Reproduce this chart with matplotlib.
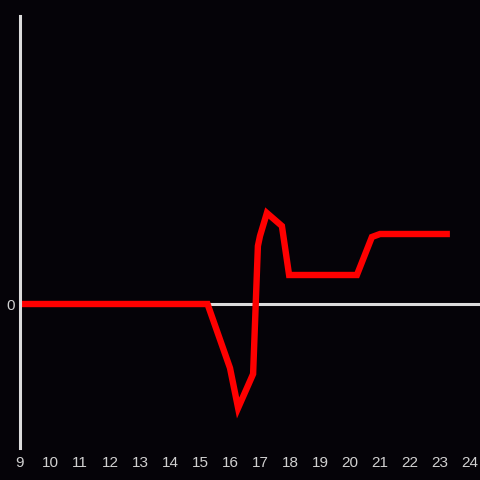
import matplotlib.pyplot as plt

# hours of the day and the value at each (arbitrary units)
hours = [9.0, 15.25, 16.0, 16.27, 16.77, 16.93, 17.0, 17.23, 17.73, 17.97, 20.23, 20.73, 21.0, 23.33]
values = [0, 0, -64, -104, -70, 58, 68, 91, 78, 29, 29, 67, 70, 70]
tick_hours = list(range(9, 25))

BG = '#050308'
AXIS = '#dcdcdc'

fig = plt.figure(figsize=(4.8, 4.8), dpi=100, facecolor=BG)
ax = fig.add_axes([20 / 480, 32 / 480, 460 / 480, 432 / 480])
ax.set_facecolor(BG)

ax.axhline(0, color=AXIS, linewidth=2.2, zorder=1)
ax.plot(hours, values, color='#ff0000', linewidth=4.6, solid_joinstyle='miter',
        solid_capstyle='butt', zorder=2)

ax.set_xlim(9, 24 + 10 / 30)
ax.set_ylim(-144, 288)

for side in ['top', 'right', 'bottom']:
    ax.spines[side].set_visible(False)
ax.spines['left'].set_color(AXIS)
ax.spines['left'].set_linewidth(2.2)

ax.set_xticks(tick_hours)
ax.set_xticklabels([str(h) for h in tick_hours])
ax.set_yticks([0])
ax.set_yticklabels(['0'])
ax.tick_params(length=0, colors=AXIS, labelsize=11)
ax.tick_params(axis='x', pad=6)
ax.tick_params(axis='y', pad=4)
for lbl in ax.get_xticklabels() + ax.get_yticklabels():
    lbl.set_family('Liberation Sans')
    lbl.set_color('#d0d0d0')

fig.savefig('out.png', facecolor=BG)
